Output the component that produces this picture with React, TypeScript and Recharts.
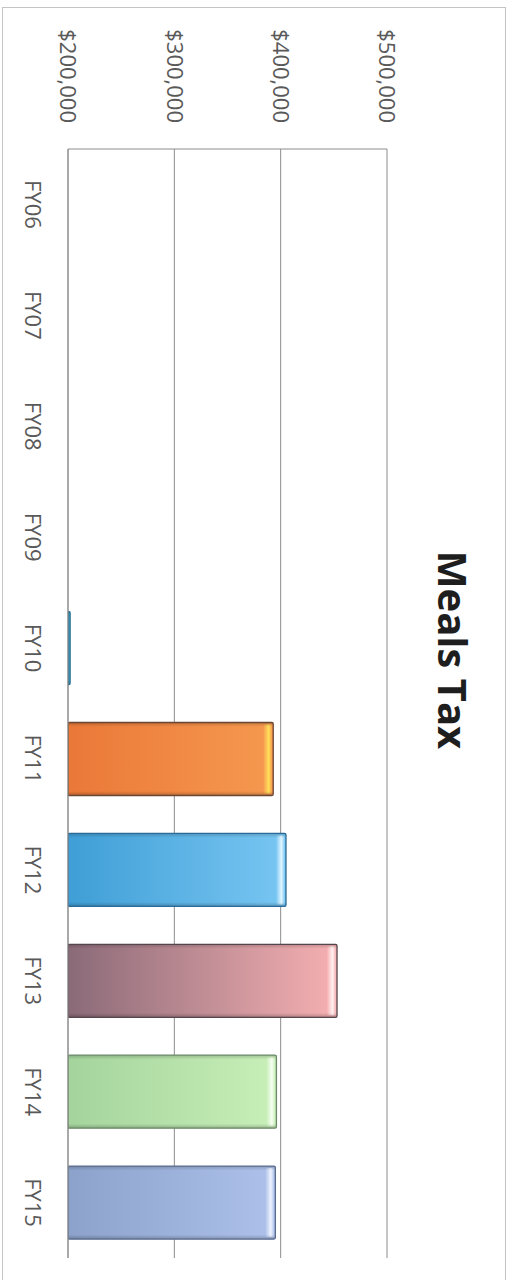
import React from "react";
import { BarChart, Bar, XAxis, YAxis, CartesianGrid } from "recharts";

// fiscal years and meals tax receipts
const years = ["FY06", "FY07", "FY08", "FY09", "FY10", "FY11", "FY12", "FY13", "FY14", "FY15"];
const mealsTax = [0, 0, 0, 0, 202000, 393000, 405000, 453000, 396000, 395000];
const valueTicks = [200000, 300000, 400000, 500000];

const AXIS_MIN = 200000;
const AXIS_MAX = 500000;

// per-bar shading: base, lighter end, highlight on the cap, outline
const palette = [
  { dark: "#3a9cc0", light: "#5ab4d8", glow: "#c8ecff", edge: "#2a7090" },
  { dark: "#3a9cc0", light: "#5ab4d8", glow: "#c8ecff", edge: "#2a7090" },
  { dark: "#3a9cc0", light: "#5ab4d8", glow: "#c8ecff", edge: "#2a7090" },
  { dark: "#3a9cc0", light: "#5ab4d8", glow: "#c8ecff", edge: "#2a7090" },
  { dark: "#2f9cc4", light: "#45aad0", glow: "#c8ecff", edge: "#2a7090" },
  { dark: "#ea7838", light: "#f6994f", glow: "#ffe05a", edge: "#6b4634" },
  { dark: "#3f9ed6", light: "#78c6f2", glow: "#e0f6ff", edge: "#2a6a98" },
  { dark: "#8a6a78", light: "#f6b0b2", glow: "#fff0f0", edge: "#54464c" },
  { dark: "#a4d49c", light: "#c8efb8", glow: "#f6fff2", edge: "#6a8868" },
  { dark: "#8ca2ca", light: "#adc1ea", glow: "#eef4ff", edge: "#5a6a8c" },
];

const data = years.map((fy, i) => ({ fy, tax: mealsTax[i] }));

const money = (v: number) => "$" + v.toLocaleString("en-US");

const BeveledBar = (props: any) => {
  const { x, y, width, height, index, payload } = props;
  if (!payload || payload.tax <= AXIS_MIN || !(height > 0)) return null;
  const c = palette[index];
  const id = `mt-bar-${index}`;
  const cap = height > 14 ? 9 : 0;
  return (
    <g>
      <defs>
        <linearGradient id={id} x1="0" y1="1" x2="0" y2="0">
          <stop offset="0" stopColor={c.dark} />
          <stop offset="1" stopColor={c.light} />
        </linearGradient>
        <linearGradient id={id + "-cap"} x1="0" y1="1" x2="0" y2="0">
          <stop offset="0" stopColor={c.light} />
          <stop offset="0.6" stopColor={c.glow} />
          <stop offset="1" stopColor={c.light} />
        </linearGradient>
        <linearGradient id={id + "-side"} x1="0" y1="0" x2="1" y2="0">
          <stop offset="0" stopColor="#000" stopOpacity="0.18" />
          <stop offset="0.06" stopColor="#000" stopOpacity="0" />
          <stop offset="0.94" stopColor="#000" stopOpacity="0" />
          <stop offset="1" stopColor="#000" stopOpacity="0.22" />
        </linearGradient>
      </defs>
      <rect x={x} y={y} width={width} height={height} fill={`url(#${id})`} />
      {cap > 0 && (
        <rect x={x + 2} y={y + 1} width={width - 4} height={cap} rx={2} fill={`url(#${id}-cap)`} />
      )}
      <rect x={x} y={y} width={width} height={height} fill={`url(#${id}-side)`} />
      <rect
        x={x}
        y={y}
        width={width}
        height={height}
        rx={1.5}
        fill="none"
        stroke={c.edge}
        strokeWidth={1.3}
      />
    </g>
  );
};

const tickFont = { fontFamily: "'Open Sans', sans-serif", fontSize: 22, fill: "#595959" };

export default function App() {
  return (
    <div
      style={{
        position: "fixed",
        left: 0,
        top: 0,
        width: 531,
        height: 1280,
        overflow: "hidden",
        background: "#fff",
      }}
    >
      <div
        style={{
          position: "absolute",
          left: 0,
          top: 0,
          width: 1280,
          height: 531,
          transformOrigin: "0 0",
          transform: "translateX(531px) rotate(90deg)",
        }}
      >
        {/* chart frame */}
        <div
          style={{
            position: "absolute",
            left: 7,
            top: 25,
            width: 1300,
            height: 502,
            border: "1.5px solid #c4c4c4",
          }}
        />
        <div
          style={{
            position: "absolute",
            left: 350,
            top: 58,
            width: 600,
            textAlign: "center",
            fontFamily: "'Open Sans', sans-serif",
            fontWeight: 700,
            fontSize: 40,
            lineHeight: "40px",
            color: "#1e1e1e",
          }}
        >
          Meals Tax
        </div>
        <div style={{ position: "absolute", left: 0, top: 0 }}>
          <BarChart
            width={1280}
            height={531}
            data={data}
            barSize={73}
            margin={{ top: 144, right: 22, bottom: 0, left: 0 }}
          >
            <CartesianGrid vertical={false} stroke="#8c8c8c" strokeWidth={1} />
            <XAxis
              dataKey="fy"
              height={68}
              tickSize={0}
              tickMargin={27}
              tickLine={false}
              axisLine={{ stroke: "#8c8c8c" }}
              tick={tickFont}
              interval={0}
            />
            <YAxis
              width={149}
              domain={[AXIS_MIN, AXIS_MAX]}
              ticks={valueTicks}
              allowDataOverflow
              tickFormatter={money}
              tickSize={0}
              tickMargin={26}
              tickLine={false}
              axisLine={{ stroke: "#8c8c8c" }}
              tick={tickFont}
            />
            <Bar dataKey="tax" shape={<BeveledBar />} isAnimationActive={false} />
          </BarChart>
        </div>
      </div>
    </div>
  );
}
